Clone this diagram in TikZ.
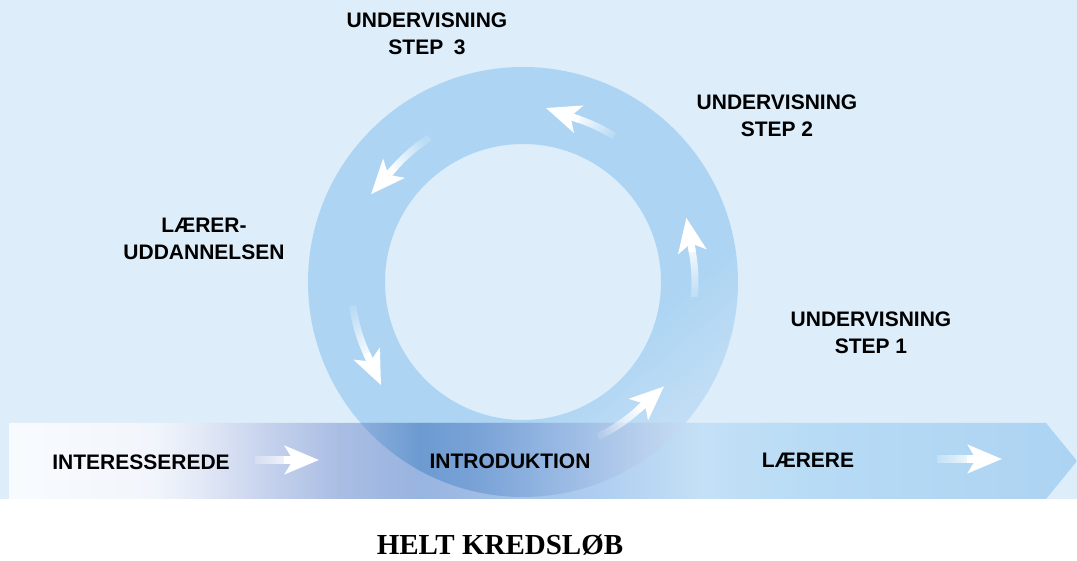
\documentclass[tikz,border=0pt]{standalone}
\usepackage{fontspec}
\setmainfont{Liberation Sans}
\newfontfamily\titlefont{Liberation Serif}
\usetikzlibrary{arrows.meta,fadings}

\definecolor{bgblue}{HTML}{DDEDFA}
\definecolor{ringblue}{HTML}{ADD5F3}
\definecolor{ringlight}{HTML}{C5DFF5}
\definecolor{bandA}{HTML}{F8FBFE}
\definecolor{bandB}{HTML}{F2F6FC}
\definecolor{bandC}{HTML}{E3E9F6}
\definecolor{bandD}{HTML}{C9D4EE}
\definecolor{bandE}{HTML}{A9BDE3}
\definecolor{bandF}{HTML}{98B4E0}
\definecolor{bandG}{HTML}{B0CEF0}
\definecolor{bandH}{HTML}{C3E0F6}
\definecolor{bandI}{HTML}{B7DBF5}
\definecolor{bandJ}{HTML}{ACD3F2}
\definecolor{diskA}{HTML}{92B2DF}
\definecolor{diskB}{HTML}{6C9BD1}
\definecolor{diskC}{HTML}{7AA3D7}
\definecolor{diskD}{HTML}{98B9E3}
\definecolor{diskE}{HTML}{B4CCEC}
\definecolor{diskF}{HTML}{C7DDF3}

\pgfdeclarehorizontalshading{bandshade}{100bp}{color(0bp)=(bandA); color(25bp)=(bandA);
  color(31.6bp)=(bandB); color(33.9bp)=(bandC); color(36.75bp)=(bandD); color(40.5bp)=(bandE);
  color(44.2bp)=(bandF); color(52.7bp)=(bandG); color(57.4bp)=(bandH); color(63bp)=(bandI);
  color(75bp)=(bandJ); color(100bp)=(bandJ)}
\pgfdeclarehorizontalshading{diskshade}{100bp}{color(0bp)=(diskA); color(40.9bp)=(diskA);
  color(44.2bp)=(diskB); color(47bp)=(diskC); color(50.8bp)=(diskD); color(54.1bp)=(diskE);
  color(56.9bp)=(diskF); color(100bp)=(diskF)}
\pgfdeclarehorizontalshading{ringshade}{100bp}{color(0bp)=(ringblue); color(63bp)=(ringblue);
  color(76bp)=(ringlight); color(100bp)=(ringlight)}

\tikzfading[name=tailfade, left color=transparent!85, right color=transparent!0]

\begin{document}
\begin{tikzpicture}[x=1pt, y=1pt,
    lbl/.style={font=\bfseries\fontsize{21}{27}\selectfont, align=center},
    shaft/.style={white, line width=7pt, path fading=tailfade},
    arrowhead/.style={white, line width=7pt,
        -{Stealth[length=34pt, width=28pt, inset=8pt]}}]

    \useasboundingbox (0,0) rectangle (1077,561);
    \fill[bgblue] (0,62) rectangle (1077,561);

    % ring and band
    \shade[shading=ringshade, shading angle=-50, even odd rule]
        (523,279) circle[radius=215] (523,279) circle[radius=138];
    \shade[shading=bandshade]
        (9,62) -- (1046,62) -- (1077,100) -- (1046,138) -- (9,138) -- cycle;
    \begin{scope}
        \clip (523,279) circle[radius=215];
        \shade[shading=diskshade]
            (9,62) -- (1046,62) -- (1077,100) -- (1046,138) -- (9,138) -- cycle;
    \end{scope}

    % arrows round the ring
    \begin{scope}[shift={(523,279)}]
    \foreach \s/\e in {58/71, 123/138.5, 188/204.5, 296/312, -5/10} {
        \pgfmathsetmacro\fa{(\s+\e)/2+90}
        \draw[shaft, fading angle=\fa]
            (\s:172) arc[start angle=\s, end angle=\e, radius=172] -- ++(\e+90:9);
        \draw[arrowhead] (\e:172) -- ++(\e+90:35);
    }
    \end{scope}

    \node[lbl] (step3) at (427,527) {UNDERVISNING\\STEP\enspace 3};
    \node[lbl] (step2) at (777,445) {UNDERVISNING\\STEP 2};
    \node[lbl] (uddannelse) at (204,322) {LÆRER-\\UDDANNELSEN};
    \node[lbl] (step1) at (871,228) {UNDERVISNING\\STEP 1};
    \node[lbl] (interest) at (141,99) {INTERESSEREDE};
    \node[lbl] (intro) at (510,100) {INTRODUKTION};
    \node[lbl] (laerere) at (808,101) {LÆRERE};
    \node[font=\titlefont\bfseries\fontsize{29}{30}\selectfont, anchor=base]
        (title) at (500,6) {HELT KREDSLØB};

    \coordinate (tail1) at (255,101);
    \coordinate (tail2) at (937,102);
    \foreach \t/\l in {tail1/64, tail2/65} {
        \draw[shaft, line width=8pt] (\t) -- ++(\l-26,0);
        \draw[arrowhead, line width=8pt] ([xshift=\l-35]\t) -- ++(35,0);
    }
\end{tikzpicture}
\end{document}
